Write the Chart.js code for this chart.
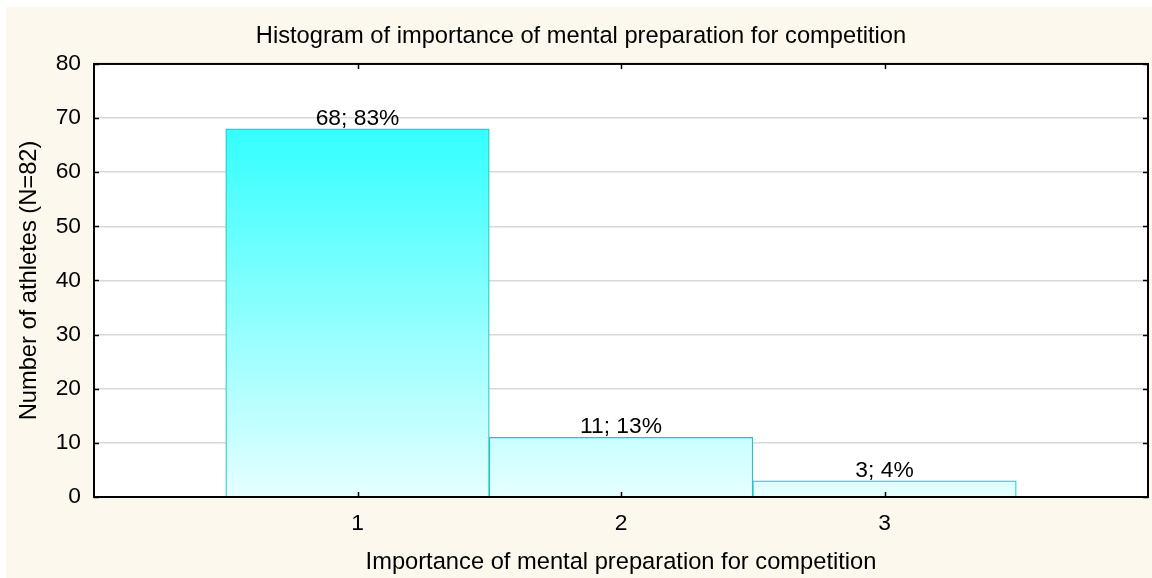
<!DOCTYPE html>
<html>
<head>
<meta charset="utf-8">
<script src="https://cdn.jsdelivr.net/npm/chart.js@4/dist/chart.umd.min.js"></script>
<style>
html,body{margin:0;padding:0;background:#ffffff;}
#wrap{position:absolute;left:0;top:0;width:1152px;height:578px;}
</style>
</head>
<body>
<div id="wrap"><canvas id="c" width="1152" height="578"></canvas></div>
<script>
const categories = [1, 2, 3];
const counts = [68, 11, 3];
const percents = [83, 13, 4];
const yTicks = [0, 10, 20, 30, 40, 50, 60, 70, 80];

const FONT = "'Liberation Sans', Arial, sans-serif";

const framePlugin = {
  id: 'frame',
  beforeDraw(chart) {
    const ctx = chart.ctx;
    ctx.save();
    ctx.fillStyle = '#fdf8ee';
    ctx.fillRect(6, 7, chart.width - 6, chart.height - 7);
    const a = chart.chartArea;
    ctx.fillStyle = '#ffffff';
    ctx.fillRect(a.left, a.top, a.right - a.left, a.bottom - a.top);
    ctx.restore();
  },
  afterDatasetsDraw(chart) {
    const ctx = chart.ctx;
    const a = chart.chartArea;
    const xs = chart.scales.x, ys = chart.scales.y;
    ctx.save();
    ctx.fillStyle = '#000';
    ctx.font = '22.8px ' + FONT;
    ctx.textAlign = 'center';
    ctx.textBaseline = 'alphabetic';
    const meta = chart.getDatasetMeta(0);
    meta.data.forEach((bar, i) => {
      ctx.fillText(counts[i] + '; ' + percents[i] + '%', bar.x, bar.y - 4);
    });
    ctx.strokeStyle = '#000';
    ctx.lineWidth = 2;
    ctx.strokeRect(a.left, a.top, a.right - a.left, a.bottom - a.top);
    ctx.lineWidth = 1.5;
    ctx.beginPath();
    yTicks.forEach(v => {
      const y = Math.round(ys.getPixelForValue(v)) + 0.5;
      ctx.moveTo(a.left, y); ctx.lineTo(a.left + 5, y);
      ctx.moveTo(a.right, y); ctx.lineTo(a.right - 5, y);
    });
    categories.forEach(c => {
      const x = Math.round(xs.getPixelForValue(c)) + 0.5;
      ctx.moveTo(x, a.bottom); ctx.lineTo(x, a.bottom - 5);
      ctx.moveTo(x, a.top); ctx.lineTo(x, a.top + 5);
    });
    ctx.stroke();
    ctx.restore();
  }
};

function barGradient(context) {
  const chart = context.chart;
  const a = chart.chartArea;
  if (!a) return '#80ffff';
  const g = chart.ctx.createLinearGradient(0, a.top, 0, a.bottom);
  g.addColorStop(0, '#14ffff');
  g.addColorStop(1, '#e6ffff');
  return g;
}

new Chart(document.getElementById('c'), {
  type: 'bar',
  data: {
    datasets: [{
      data: categories.map((c, i) => ({x: c, y: counts[i]})),
      backgroundColor: barGradient,
      borderColor: '#22c4c4',
      borderWidth: 1.2,
      barPercentage: 1,
      categoryPercentage: 1
    }]
  },
  options: {
    responsive: false,
    animation: false,
    devicePixelRatio: 1,
    layout: {padding: {left: 14, right: 4, top: 0, bottom: 0}},
    plugins: {
      legend: {display: false},
      tooltip: {enabled: false},
      title: {
        display: true,
        text: 'Histogram of importance of mental preparation for competition',
        color: '#000',
        font: {family: FONT, size: 23.7, weight: 'normal'},
        padding: {top: 22.5, bottom: 13}
      }
    },
    scales: {
      x: {
        type: 'linear',
        min: 0, max: 4,
        offset: false,
        afterBuildTicks(scale) { scale.ticks = categories.map(v => ({value: v})); },
        afterFit(scale) { scale.height = 81; },
        ticks: {
          color: '#000',
          font: {family: FONT, size: 22.8},
          padding: 13,
          maxRotation: 0,
          callback: v => String(v)
        },
        grid: {display: false, drawTicks: false},
        border: {display: false},
        title: {
          display: true,
          text: 'Importance of mental preparation for competition',
          color: '#000',
          font: {family: FONT, size: 23.7},
          padding: {top: 0, bottom: 1.5}
        }
      },
      y: {
        min: 0, max: 80,
        afterBuildTicks(scale) { scale.ticks = yTicks.map(v => ({value: v})); },
        afterFit(scale) { scale.width = 80; },
        ticks: {
          color: '#000',
          font: {family: FONT, size: 22.8},
          padding: 13
        },
        grid: {
          color: ctx => (ctx.tick && (ctx.tick.value === 0 || ctx.tick.value === 80)) ? 'rgba(0,0,0,0)' : '#d8d8d8',
          lineWidth: 1.5,
          drawTicks: false
        },
        border: {display: false},
        title: {
          display: true,
          text: 'Number of athletes (N=82)',
          color: '#000',
          font: {family: FONT, size: 23.7},
          padding: {top: 1, bottom: 0}
        }
      }
    }
  },
  plugins: [framePlugin]
});
</script>
</body>
</html>
